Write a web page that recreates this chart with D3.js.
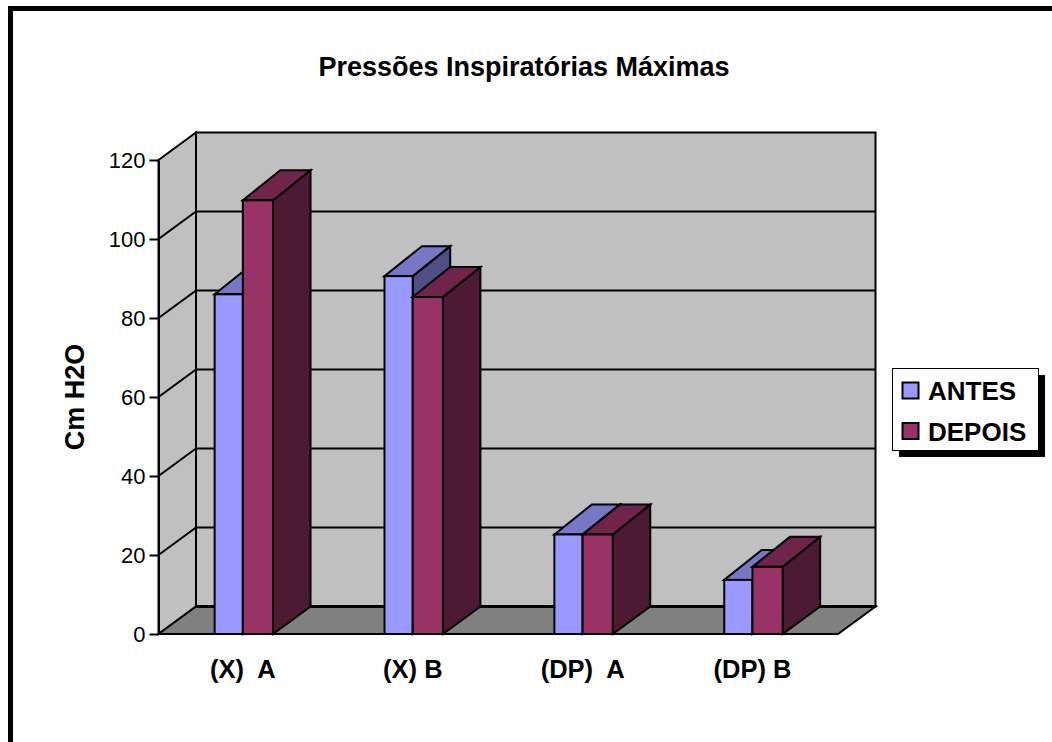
<!DOCTYPE html>
<html>
<head>
<meta charset="utf-8">
<script src="https://d3js.org/d3.v7.min.js"></script>
<style>
  body { margin: 0; background: #fff; }
  text { font-family: "Liberation Sans", Arial, sans-serif; fill: #000; }
</style>
</head>
<body>
<div id="my_dataviz"></div>
<script>

// data
var categories = ["(X)  A", "(X) B", "(DP)  A", "(DP) B"];
var seriesNames = ["ANTES", "DEPOIS"];
var antes = [86, 90.6, 25.2, 13.7];
var depois = [109.8, 85.3, 25.2, 17];
var yTicks = [0, 20, 40, 60, 80, 100, 120];

var seriesValues = [antes, depois];
var faceColors = ["#9999FF", "#993366"];
var topColors = ["#7777C6", "#70244C"];
var sideColors = ["#4F4F85", "#4D1A33"];

// plot box and 3d offset
var width = 1052, height = 742;
var plotLeft = 158.5, plotRight = 838, plotBottom = 634, plotTop = 160;
var depthX = 37.5, depthY = 27.5, barTopDepthY = 30;

var svg = d3.select("#my_dataviz")
  .append("svg")
    .attr("width", width)
    .attr("height", height)
    .style("display", "block");

// frame (only left and top edges fall inside the page)
svg.append("rect")
  .attr("x", 10.5).attr("y", 8.5)
  .attr("width", 1200).attr("height", 900)
  .attr("fill", "none")
  .attr("stroke", "#000")
  .attr("stroke-width", 5);

svg.append("text")
  .attr("x", 524).attr("y", 75.5)
  .attr("text-anchor", "middle")
  .style("font-size", "27px")
  .style("font-weight", "bold")
  .text("Pressões Inspiratórias Máximas");

var y = d3.scaleLinear().domain([0, 120]).range([plotBottom, plotTop]);

var x0 = d3.scaleBand()
  .domain(categories)
  .range([plotLeft, plotRight])
  .paddingInner(2 / 3)
  .paddingOuter(1 / 3);

// bar edges inside one group
var x1 = d3.scaleOrdinal().domain(seriesNames).range([-0.5, 27.7]);
var barWidths = [28.2, 30.2];

function poly(points) {
  return "M" + points.map(function(p) { return p[0] + "," + p[1]; }).join("L") + "Z";
}

// walls and floor
var wallLine = { stroke: "#000", "stroke-width": 2, "stroke-linejoin": "miter" };
function applyLine(sel) {
  Object.keys(wallLine).forEach(function(k) { sel.attr(k, wallLine[k]); });
  return sel;
}

applyLine(svg.append("path")
  .attr("d", poly([[plotLeft + depthX, y(120) - depthY], [plotRight + depthX, y(120) - depthY], [plotRight + depthX, y(0) - depthY], [plotLeft + depthX, y(0) - depthY]]))
  .attr("fill", "#C0C0C0"));

applyLine(svg.append("path")
  .attr("d", poly([[plotLeft, y(120)], [plotLeft + depthX, y(120) - depthY], [plotLeft + depthX, y(0) - depthY], [plotLeft, y(0)]]))
  .attr("fill", "#C0C0C0"));

// gridlines run along the side wall and the back wall
svg.append("g")
  .selectAll("path")
  .data(yTicks.filter(function(d) { return d > 0 && d < 120; }))
  .enter()
  .append("path")
    .attr("d", function(d) {
      return "M" + plotLeft + "," + y(d) + "L" + (plotLeft + depthX) + "," + (y(d) - depthY) + "L" + (plotRight + depthX) + "," + (y(d) - depthY);
    })
    .attr("fill", "none")
    .attr("stroke", "#000")
    .attr("stroke-width", 2);

applyLine(svg.append("path")
  .attr("d", poly([[plotLeft, y(0)], [plotLeft + depthX, y(0) - depthY], [plotRight + depthX, y(0) - depthY], [plotRight, y(0)]]))
  .attr("fill", "#808080"));

svg.append("path")
  .attr("d", "M" + (plotLeft + depthX) + "," + (y(0) - depthY) + "L" + (plotRight + depthX) + "," + (y(0) - depthY))
  .attr("stroke", "#000")
  .attr("stroke-width", 3);

// y axis
var yAxis = svg.append("g")
  .attr("transform", "translate(" + plotLeft + ",0)")
  .call(d3.axisLeft(y).tickValues(yTicks).tickSize(9).tickSizeOuter(0).tickPadding(4));
yAxis.selectAll("path, line").attr("stroke", "#000").attr("stroke-width", 2);
yAxis.selectAll("text").style("font-size", "22px").attr("fill", "#000");

// bars, one group per category, ANTES drawn first
categories.forEach(function(cat, c) {
  var g = svg.append("g");
  seriesNames.forEach(function(name, s) {
    var left = x0(cat) + x1(name);
    var right = left + barWidths[s];
    var top = y(seriesValues[s][c]);
    var base = y(0);

    applyLine(g.append("path")
      .attr("d", poly([[right, top], [right + depthX, top - barTopDepthY], [right + depthX, base - depthY], [right, base]]))
      .attr("fill", sideColors[s]));
    applyLine(g.append("path")
      .attr("d", poly([[left, top], [left + depthX, top - barTopDepthY], [right + depthX, top - barTopDepthY], [right, top]]))
      .attr("fill", topColors[s]));
    applyLine(g.append("rect")
      .attr("x", left).attr("y", top)
      .attr("width", right - left).attr("height", base - top)
      .attr("fill", faceColors[s]));
  });
});

// category labels
svg.append("g")
  .selectAll("text")
  .data(categories)
  .enter()
  .append("text")
    .attr("x", function(d) { return x0(d) + x0.bandwidth() / 2 - 0.5; })
    .attr("y", 677.5)
    .attr("text-anchor", "middle")
    .style("white-space", "pre")
    .style("font-size", "25.5px")
    .style("font-weight", "bold")
    .text(function(d) { return d; });

// y title
svg.append("text")
  .attr("transform", "translate(83.5,397) rotate(-90)")
  .attr("text-anchor", "middle")
  .style("font-size", "27px")
  .style("font-weight", "bold")
  .text("Cm H2O");

// legend
svg.append("rect")
  .attr("x", 899).attr("y", 375)
  .attr("width", 146).attr("height", 82)
  .attr("fill", "#000");
svg.append("rect")
  .attr("x", 892.5).attr("y", 368.5)
  .attr("width", 146).attr("height", 82)
  .attr("fill", "#fff")
  .attr("stroke", "#000")
  .attr("stroke-width", 1);

var legendY = d3.scalePoint().domain(seriesNames).range([390.5, 431]);
var legend = svg.append("g")
  .selectAll("g")
  .data(seriesNames)
  .enter()
  .append("g")
    .attr("transform", function(d) { return "translate(0," + legendY(d) + ")"; });
legend.append("rect")
  .attr("x", 902.5).attr("y", -8)
  .attr("width", 16).attr("height", 16)
  .attr("fill", function(d, i) { return faceColors[i]; })
  .attr("stroke", "#000")
  .attr("stroke-width", 2);
legend.append("text")
  .attr("x", 928).attr("y", 9.5)
  .style("font-size", "26px")
  .style("font-weight", "bold")
  .text(function(d) { return d; });

</script>
</body>
</html>
